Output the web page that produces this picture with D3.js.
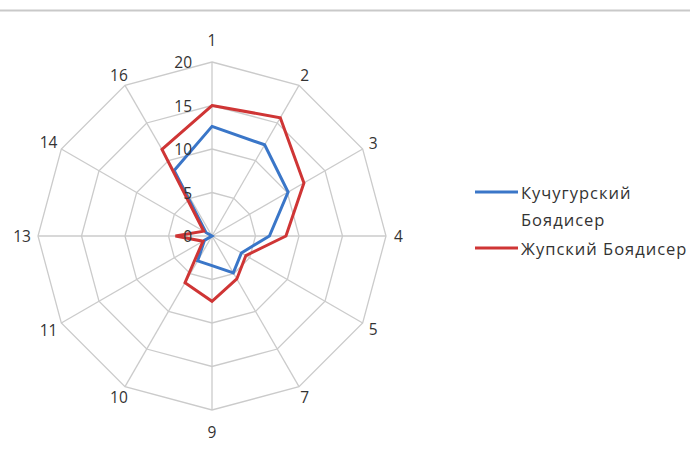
<!DOCTYPE html>
<html>
<head>
<meta charset="utf-8">
<script src="https://cdn.jsdelivr.net/npm/d3@7/dist/d3.min.js"></script>
<style>
  html, body { margin: 0; padding: 0; background: #fff; }
  svg { display: block; }
  text { font-family: "Open Sans", "Noto Sans", sans-serif; fill: #333; }
</style>
</head>
<body>
<script>
// Spoke categories, clockwise from the top
const categories = ["1", "2", "3", "4", "5", "7", "9", "10", "11", "13", "14", "16"];
// Series values per category
const kuchugurValues = [12.6, 12.1, 10.1, 6.6, 3.9, 4.9, 3.4, 3.3, 1.0, 0, 0.8, 8.7];
const zhupValues     = [15.0, 15.7, 12.2, 8.5, 4.5, 5.7, 7.5, 6.2, 1.2, 4.2, 1.1, 11.5];
const seriesNames = [["Кучугурский", "Боядисер"], ["Жупский Боядисер"]];
const seriesColors = ["#3a76c8", "#cf3535"];
// Radial value ticks
const tickValues = [0, 5, 10, 15, 20];

const W = 690, H = 452;
const cx = 212, cy = 236, R = 174;

const svg = d3.select("body").append("svg").attr("width", W).attr("height", H);

// thin rule across the top
svg.append("line")
  .attr("x1", 0).attr("x2", W).attr("y1", 10.5).attr("y2", 10.5)
  .attr("stroke", "#c9c9c9").attr("stroke-width", 2);

const r = d3.scaleLinear().domain([0, 20]).range([0, R]);
const angle = d3.scaleBand().domain(categories).range([0, 2 * Math.PI]).align(0);
const ang = c => angle(c);

const g = svg.append("g").attr("transform", `translate(${cx},${cy})`);

// polygon gridlines
const ringLine = d3.lineRadial().curve(d3.curveLinearClosed);
tickValues.filter(v => v > 0).forEach(v => {
  g.append("path")
    .attr("d", ringLine(categories.map(c => [ang(c), r(v)])))
    .attr("fill", "none").attr("stroke", "#cbcbcb").attr("stroke-width", 1.3);
});

// spokes
categories.forEach(c => {
  const a = ang(c);
  g.append("line")
    .attr("x1", 0).attr("y1", 0)
    .attr("x2", Math.sin(a) * R).attr("y2", -Math.cos(a) * R)
    .attr("stroke", "#cbcbcb").attr("stroke-width", 1.3);
});

// category labels
categories.forEach(c => {
  const a = ang(c);
  const s = Math.sin(a), co = Math.cos(a);
  const d = Math.abs(s) < 0.01 ? 22 : 11 + (c.length > 1 ? 5 : 1.5) * s * s;
  g.append("text")
    .attr("x", s * (R + d)).attr("y", -co * (R + d))
    .attr("text-anchor", "middle").attr("dominant-baseline", "central")
    .attr("font-size", 15.5).text(c);
});

// series polygons
const seriesLine = d3.lineRadial().curve(d3.curveLinearClosed);
[kuchugurValues, zhupValues].forEach((vals, i) => {
  g.append("path")
    .attr("d", seriesLine(categories.map((c, k) => [ang(c), r(vals[k])])))
    .attr("fill", "none").attr("stroke", seriesColors[i])
    .attr("stroke-width", 3).attr("stroke-linejoin", "miter");
});

// value axis labels
tickValues.forEach(v => {
  g.append("text")
    .attr("x", -20).attr("y", -r(v))
    .attr("text-anchor", "end").attr("dominant-baseline", "central")
    .attr("font-size", 15.5).text(v);
});

// legend
const legendY = [192, 248];
seriesNames.forEach((lines, i) => {
  svg.append("line")
    .attr("x1", 475).attr("x2", 518)
    .attr("y1", legendY[i]).attr("y2", legendY[i])
    .attr("stroke", seriesColors[i]).attr("stroke-width", 3);
  lines.forEach((t, j) => {
    svg.append("text")
      .attr("x", 521).attr("y", legendY[i] + j * 27)
      .attr("dominant-baseline", "central")
      .attr("font-size", 16.5).attr("letter-spacing", 1)
      .text(t);
  });
});
</script>
</body>
</html>
